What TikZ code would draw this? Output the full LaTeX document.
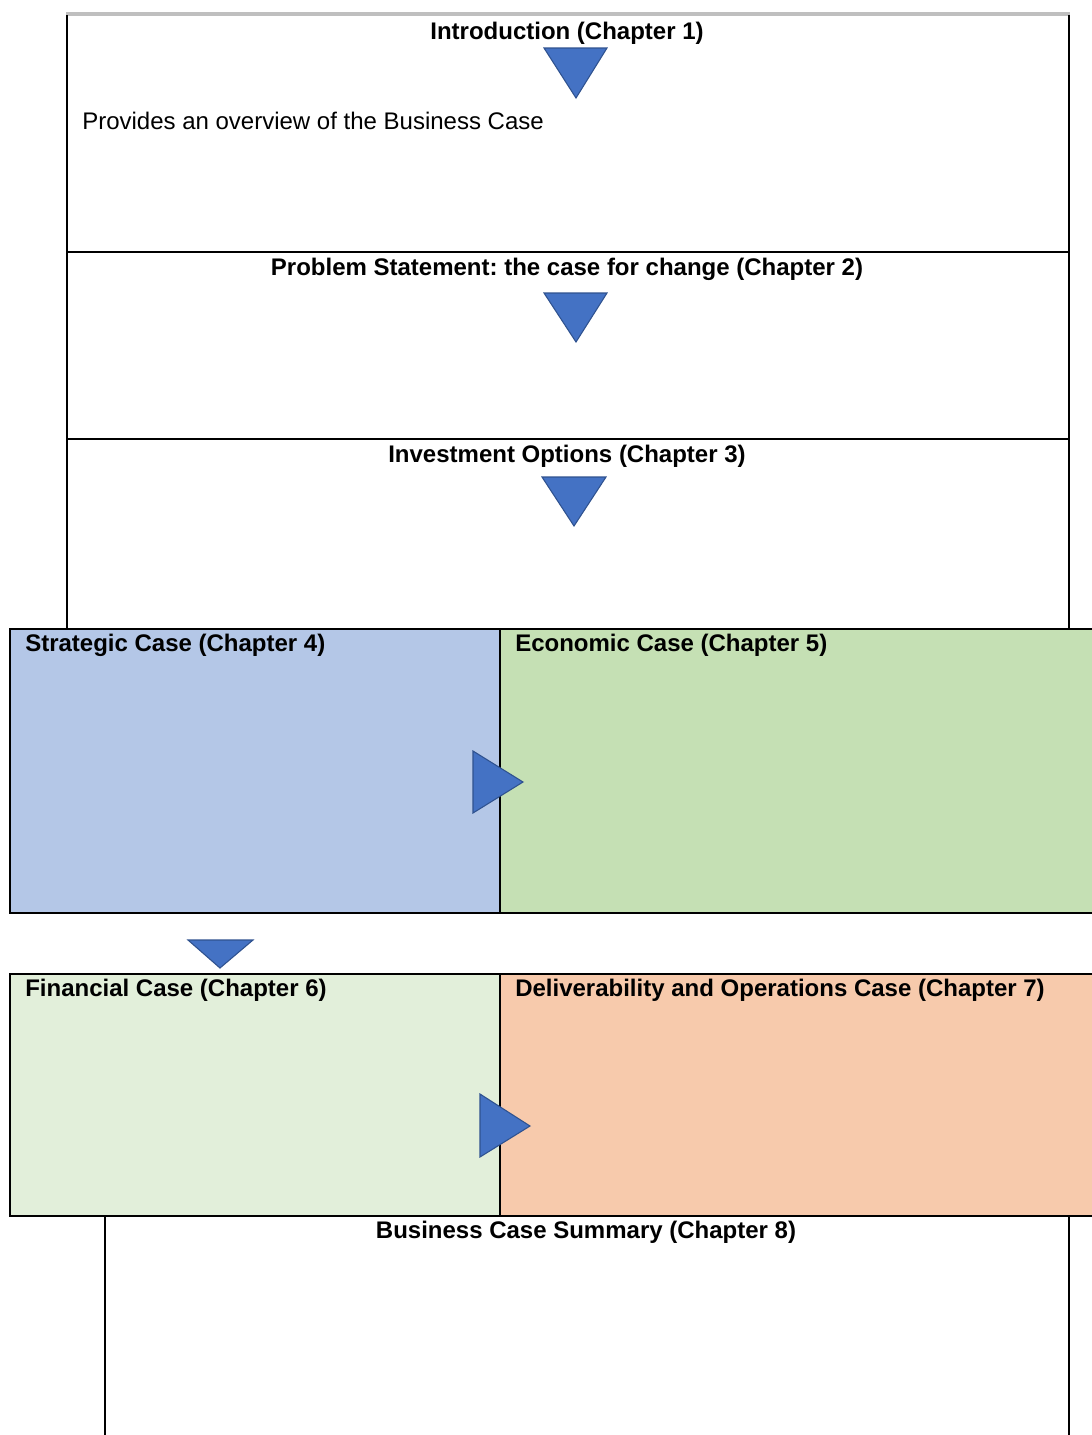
\documentclass[tikz,border=0pt]{standalone}
\usepackage{fontspec}
\setmainfont{Liberation Sans}
\usepackage{tikz}
\frenchspacing

\definecolor{stratblue}{HTML}{B4C7E7}
\definecolor{econgreen}{HTML}{C5E0B4}
\definecolor{fingreen}{HTML}{E2EFDA}
\definecolor{delivpeach}{HTML}{F7CAAC}
\definecolor{arrowblue}{HTML}{4472C4}
\definecolor{arrowedge}{HTML}{2F528F}

\begin{document}
\begin{tikzpicture}[x=0.75pt, y=-0.75pt,
    frame/.style={line width=1.4pt, black},
    chapter/.style={font=\fontsize{18}{21}\selectfont\bfseries, inner sep=0pt},
    note/.style={font=\fontsize{18}{21}\selectfont, inner sep=0pt},
    pointer/.style={fill=arrowblue, draw=arrowedge, line width=0.8pt, line join=miter}]
        \useasboundingbox (0, 0) rectangle (1092, 1435);
        \clip (0, 0) rectangle (1092, 1435);

        % Draw the top rows
        \draw[line width=2.6pt, black!25] (66, 14) -- (1070, 14);
        \draw[frame] (67, 15) -- (67, 629);
        \draw[frame] (1069, 15) -- (1069, 629);
        \draw[frame] (67, 252) -- (1069, 252);
        \draw[frame] (67, 439) -- (1069, 439);

        % Draw the coloured cases
        \draw[frame, fill=stratblue] (10, 629) rectangle (500, 913);
        \draw[frame, fill=econgreen] (500, 629) rectangle (1100, 913);
        \draw[frame, fill=fingreen] (10, 974) rectangle (500, 1216);
        \draw[frame, fill=delivpeach] (500, 974) rectangle (1100, 1216);

        % Draw the summary row
        \draw[frame] (105, 1216) -- (105, 1440);
        \draw[frame] (1069, 1216) -- (1069, 1440);

        % Add labels
        \node[chapter, anchor=base] (intro) at (567, 39) {Introduction (Chapter 1)};
        \node[note, anchor=base west] (overview) at (82, 129) {Provides an overview of the Business Case};
        \node[chapter, anchor=base] (problem) at (567, 275) {Problem Statement: the case for change (Chapter 2)};
        \node[chapter, anchor=base] (options) at (567, 462) {Investment Options (Chapter 3)};
        \node[chapter, anchor=base west] (strategic) at (25, 651) {Strategic Case (Chapter 4)};
        \node[chapter, anchor=base west] (economic) at (515, 651) {Economic Case (Chapter 5)};
        \node[chapter, anchor=base west] (financial) at (25, 996) {Financial Case (Chapter 6)};
        \node[chapter, anchor=base west] (deliver) at (515, 996) {Deliverability and Operations Case (Chapter 7)};
        \node[chapter, anchor=base] (summary) at (586, 1238) {Business Case Summary (Chapter 8)};

        % Add the flow triangles
        \draw[pointer] (544, 48) -- (607, 48) -- (576, 98) -- cycle;
        \draw[pointer] (544, 293) -- (607, 293) -- (576, 342) -- cycle;
        \draw[pointer] (542, 477) -- (606, 477) -- (574, 526) -- cycle;
        \draw[pointer] (473, 751) -- (523, 782) -- (473, 813) -- cycle;
        \draw[pointer] (188, 940) -- (253, 940) -- (220, 968) -- cycle;
        \draw[pointer] (480, 1094) -- (530, 1126) -- (480, 1157) -- cycle;
    \end{tikzpicture}
\end{document}
